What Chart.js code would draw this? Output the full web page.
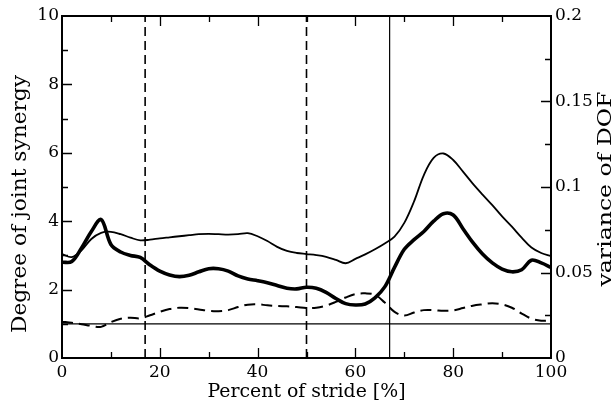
<!DOCTYPE html>
<html>
<head>
<meta charset="utf-8">
<script src="https://cdn.jsdelivr.net/npm/chart.js@4.4.1/dist/chart.umd.min.js"></script>
<style>
  body { margin: 0; background: #fff; }
  #wrap { width: 613px; height: 407px; }
</style>
</head>
<body>
<div id="wrap"><canvas id="chart_canvas" width="613" height="407"></canvas></div>
<script>
// percent of stride, sampled every 2 %
var stride = [0, 2, 4, 6, 8, 10, 12, 14, 16, 18, 20, 22, 24, 26, 28, 30, 32, 34, 36, 38, 40,
    42, 44, 46, 48, 50, 52, 54, 56, 58, 60, 62, 64, 66, 68, 70, 72, 74, 76, 78, 80,
    82, 84, 86, 88, 90, 92, 94, 96, 98, 100];
// thick line
var synergyA = [2.80, 2.82, 3.22, 3.70, 4.05, 3.32, 3.10, 3.00, 2.94, 2.72, 2.54, 2.43, 2.38, 2.42, 2.52, 2.61, 2.61, 2.54, 2.40, 2.31, 2.26,
    2.20, 2.12, 2.04, 2.02, 2.07, 2.04, 1.92, 1.74, 1.59, 1.55, 1.58, 1.76, 2.08, 2.65, 3.18, 3.46, 3.70, 4.00, 4.22, 4.18,
    3.78, 3.38, 3.04, 2.78, 2.60, 2.52, 2.58, 2.86, 2.78, 2.65];
// thin line
var synergyB = [3.04, 2.95, 3.15, 3.48, 3.66, 3.69, 3.62, 3.52, 3.44, 3.46, 3.50, 3.53, 3.56, 3.59, 3.62, 3.63, 3.62, 3.61, 3.62, 3.65, 3.56,
    3.42, 3.25, 3.13, 3.07, 3.04, 3.01, 2.96, 2.87, 2.77, 2.90, 3.03, 3.18, 3.35, 3.55, 3.95, 4.58, 5.35, 5.85, 5.98, 5.79,
    5.45, 5.10, 4.78, 4.47, 4.14, 3.84, 3.52, 3.23, 3.07, 2.98];
// dashed line
var synergyC = [1.06, 1.03, 0.99, 0.94, 0.91, 1.05, 1.15, 1.18, 1.16, 1.25, 1.35, 1.43, 1.47, 1.46, 1.42, 1.38, 1.37, 1.40, 1.49, 1.56, 1.57,
    1.54, 1.52, 1.51, 1.49, 1.46, 1.47, 1.53, 1.64, 1.77, 1.87, 1.89, 1.85, 1.62, 1.35, 1.24, 1.33, 1.40, 1.40, 1.38, 1.39,
    1.46, 1.53, 1.57, 1.60, 1.57, 1.47, 1.30, 1.15, 1.09, 1.10];
// reference marks
var thresholdLevel = 1;
var dashedEvents = [17, 50];
var solidEvents = [67];

var xTicks = [0, 20, 40, 60, 80, 100];
var leftTicks = [0, 2, 4, 6, 8, 10];
var rightTicks = [0, 0.05, 0.1, 0.15, 0.2];

var FONT = "'DejaVu Serif', serif";

function pts(xs, ys) {
    var out = [];
    for (var i = 0; i < xs.length; i++)
        out.push({ x: xs[i], y: ys[i] });
    return out;
}
function vline(x, dash) {
    return {
        data: [{ x: x, y: 0 }, { x: x, y: 10 }],
        borderColor: '#000', borderWidth: dash ? 1.6 : 1.2,
        borderDash: dash ? [9, 5] : [], pointRadius: 0, tension: 0
    };
}

var datasets = [
    { data: pts(stride, synergyB), borderColor: '#000', borderWidth: 1.8, pointRadius: 0, tension: 0.35 },
    { data: pts(stride, synergyA), borderColor: '#000', borderWidth: 3.6, pointRadius: 0, tension: 0.35 },
    { data: pts(stride, synergyC), borderColor: '#000', borderWidth: 2, borderDash: [11, 6], pointRadius: 0, tension: 0.35 },
    { data: [{ x: 0, y: thresholdLevel }, { x: 100, y: thresholdLevel }], borderColor: '#000', borderWidth: 1.2, pointRadius: 0 }
];
dashedEvents.forEach(function (x) { datasets.push(vline(x, true)); });
solidEvents.forEach(function (x) { datasets.push(vline(x, false)); });

// axis titles, stretched along the text to the reference length
function drawTitle(ctx, text, x, y, rot, size, target) {
    ctx.save();
    ctx.translate(x, y);
    ctx.rotate(rot);
    ctx.font = size + 'px ' + FONT;
    var w = ctx.measureText(text).width;
    ctx.scale(target / w, 1);
    ctx.textAlign = 'center';
    ctx.textBaseline = 'alphabetic';
    ctx.fillStyle = '#000';
    ctx.fillText(text, 0, 0);
    ctx.restore();
}

var frame = {
    id: 'frame',
    afterDatasetsDraw: function (chart) {
        var ctx = chart.ctx, a = chart.chartArea, s = chart.scales;
        ctx.save();
        ctx.strokeStyle = '#000';
        ctx.lineWidth = 2;
        ctx.strokeRect(a.left, a.top, a.right - a.left, a.bottom - a.top);
        ctx.lineWidth = 1.3;
        ctx.beginPath();
        var v, p, len;
        for (v = 10; v < 100; v += 10) {
            p = Math.round(s.x.getPixelForValue(v)) + 0.5;
            len = v % 20 == 0 ? 10 : 6;
            ctx.moveTo(p, a.bottom); ctx.lineTo(p, a.bottom - len);
            ctx.moveTo(p, a.top); ctx.lineTo(p, a.top + len);
        }
        for (v = 1; v < 10; v++) {
            p = Math.round(s.y.getPixelForValue(v)) + 0.5;
            len = v % 2 == 0 ? 10 : 6;
            ctx.moveTo(a.left, p); ctx.lineTo(a.left + len, p);
        }
        for (v = 1; v < 8; v++) {
            p = Math.round(s.y1.getPixelForValue(v * 0.025)) + 0.5;
            len = v % 2 == 0 ? 10 : 6;
            ctx.moveTo(a.right, p); ctx.lineTo(a.right - len, p);
        }
        ctx.stroke();
        ctx.restore();
        drawTitle(ctx, 'Percent of stride [%]', (a.left + a.right) / 2, 397, 0, 19, 198);
        drawTitle(ctx, 'Degree of joint synergy', 26, 204, -Math.PI / 2, 20, 258);
        drawTitle(ctx, 'variance of DOF', 611, 189, -Math.PI / 2, 19, 195);
    }
};

var tickFont = { family: FONT, size: 17 };
var myChart = new Chart('chart_canvas', {
    type: 'line',
    data: { datasets: datasets },
    options: {
        responsive: false,
        animation: false,
        events: [],
        layout: { padding: { top: 16, left: 0, right: 0, bottom: 0 } },
        plugins: { legend: { display: false }, tooltip: { enabled: false } },
        scales: {
            x: {
                type: 'linear', min: 0, max: 100,
                afterBuildTicks: function (sc) { sc.ticks = xTicks.map(function (v) { return { value: v }; }); },
                afterFit: function (sc) { sc.height = 49; },
                grid: { display: false, drawTicks: false },
                border: { display: false },
                ticks: { font: tickFont, color: '#000', padding: 4, maxRotation: 0 }
            },
            y: {
                position: 'left', min: 0, max: 10,
                afterBuildTicks: function (sc) { sc.ticks = leftTicks.map(function (v) { return { value: v }; }); },
                afterFit: function (sc) { sc.width = 62; },
                grid: { display: false, drawTicks: false },
                border: { display: false },
                ticks: { font: tickFont, color: '#000', padding: 3 }
            },
            y1: {
                position: 'right', min: 0, max: 0.2,
                afterBuildTicks: function (sc) { sc.ticks = rightTicks.map(function (v) { return { value: v }; }); },
                afterFit: function (sc) { sc.width = 62; },
                grid: { display: false, drawTicks: false },
                border: { display: false },
                ticks: {
                    font: tickFont, color: '#000', padding: 4,
                    callback: function (v) { return String(+v.toFixed(2)); }
                }
            }
        }
    },
    plugins: [frame]
});
</script>
</body>
</html>
